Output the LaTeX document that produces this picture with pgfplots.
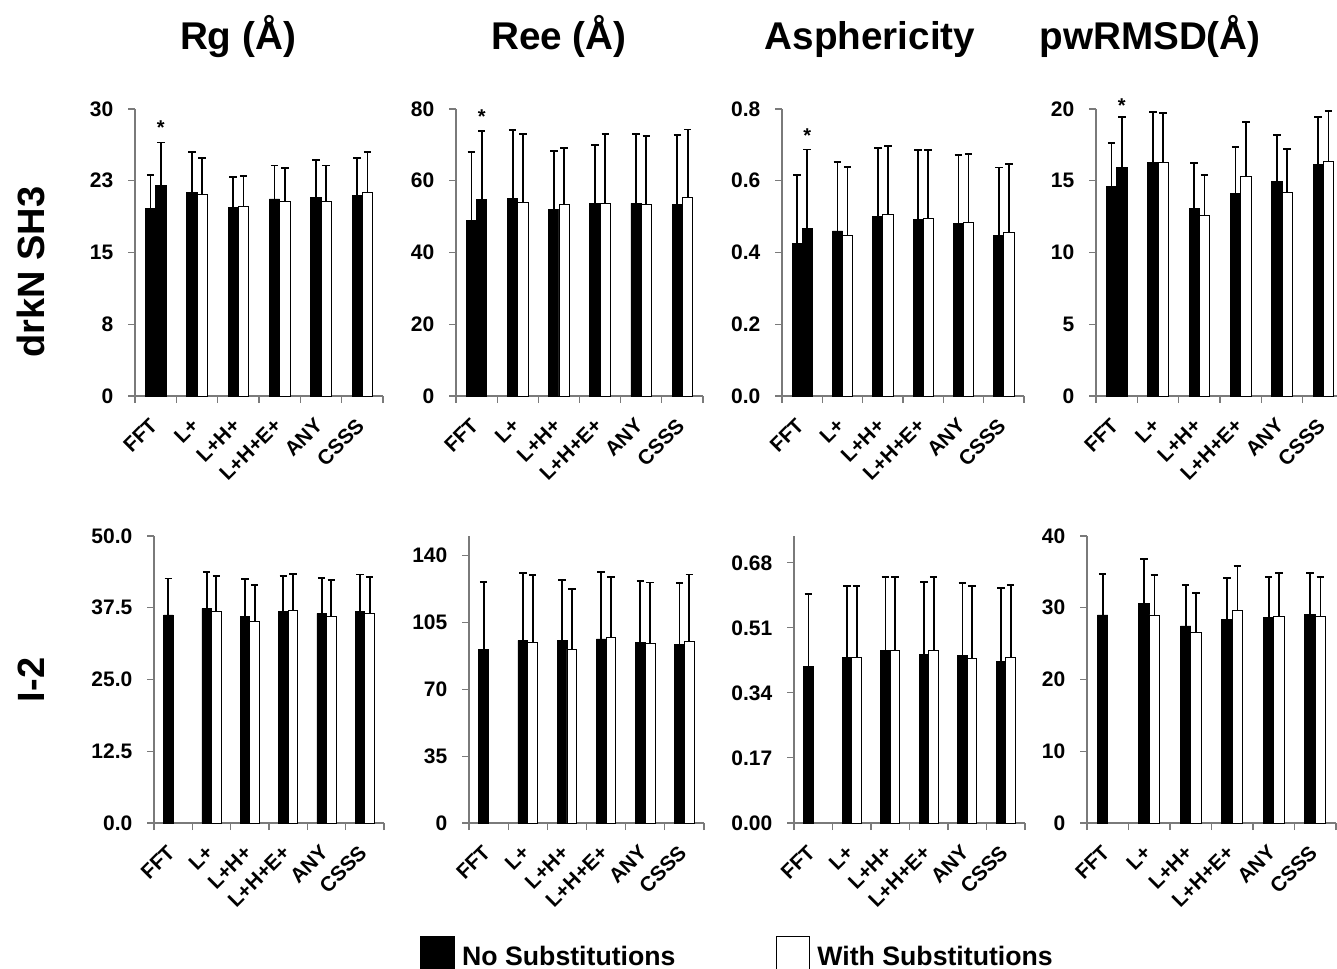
\documentclass[border=0pt]{standalone}
\usepackage{fontspec}
\setmainfont{Liberation Sans}
\usepackage{pgfplots}
\pgfplotsset{compat=1.18}
\definecolor{axisgray}{HTML}{7A7A7A}

\tikzset{sigstar/.style={font=\bfseries\fontsize{15}{15}\selectfont, yshift=-3pt}}

\pgfplotsset{
  panel/.style={
    scale only axis, anchor=south west, ybar, clip=false,
    xmin=-0.5, xmax=5.5, ymin=0,
    height=215.25pt,
    axis lines=left, axis line style={-, draw=axisgray, line width=0.8pt},
    tick align=outside,
    xtick={0,...,5}, xticklabels={FFT,L+,L+H+,L+H+E+,ANY,CSSS},
    major x tick style={draw=none},
    minor xtick={-0.5,0.5,...,5.5},
    minor x tick style={draw=axisgray, line width=0.8pt},
    minor tick length=5.25pt, major tick length=5.25pt,
    ytick style={draw=axisgray, line width=0.8pt},
    x tick label style={rotate=45, anchor=north east, inner sep=1pt,
      xshift=-10pt, yshift=-2.5pt,
      font=\bfseries\fontsize{15.5}{15.5}\selectfont},
    y tick label style={font=\bfseries\fontsize{15.75}{16}\selectfont, xshift=-7.5pt},
  },
  errs/.style={
    error bars/y dir=plus, error bars/y explicit,
    error bars/error bar style={line width=1.4pt, black},
    error bars/error mark options={rotate=90, line width=1.4pt, mark size=2.8pt, black},
  },
  nosub/.style={fill=black, draw=black, line width=0.6pt,
    bar width=0.25, bar shift=-0.125, errs},
  withsub/.style={fill=white, draw=black, line width=0.6pt,
    bar width=0.25, bar shift=0.125, errs},
  withsubfft/.style={fill=black, draw=black, line width=0.6pt,
    bar width=0.25, bar shift=0.125, errs},
}

\begin{document}
\begin{tikzpicture}
\useasboundingbox (0pt,0pt) rectangle (1002.75pt,726pt);

% column titles
\begin{scope}[every node/.style={anchor=base, font=\bfseries\fontsize{29}{30}\selectfont}]
  \node at (178.5pt,688.5pt) {Rg (Å)};
  \node at (419.25pt,688.5pt) {Ree (Å)};
  \node at (652.5pt,688.5pt) {Asphericity};
  \node at (862.5pt,688.5pt) {pwRMSD(Å)};
\end{scope}

% row labels
\node[rotate=90, font=\bfseries\fontsize{28.5}{30}\selectfont] at (23.25pt,522pt) {drkN SH3};
\node[rotate=90, font=\bfseries\fontsize{28.5}{30}\selectfont] at (23.25pt,216pt) {I-2};

% ---------------- drkN SH3 ----------------
\begin{axis}[panel, at={(101.25pt,429pt)}, width=186pt, ymax=30,
  ytick={0,7.5,15,22.5,30}, yticklabels={0,8,15,23,30}]
\addplot[nosub] table[x=x,y=y,y error=e] {
x y e
0 19.6 3.5
1 21.3 4.2
2 19.7 3.2
3 20.6 3.5
4 20.8 3.9
5 21.0 3.9
};
\addplot[withsub] table[x=x,y=y,y error=e] {
x y e
1 21.1 3.8
2 19.8 3.2
3 20.3 3.5
4 20.3 3.8
5 21.3 4.2
};
\addplot[withsubfft] table[x=x,y=y,y error=e] {
x y e
0 22.0 4.5
};
\node[sigstar] at (axis cs:0.125,28.5) {*};
\end{axis}

\begin{axis}[panel, at={(342pt,429pt)}, width=185.25pt, ymax=80,
  ytick={0,20,40,60,80}, yticklabels={0,20,40,60,80}]
\addplot[nosub] table[x=x,y=y,y error=e] {
x y e
0 48.9 19.1
1 55.0 19.1
2 52.1 16.2
3 53.7 16.2
4 53.7 19.3
5 53.4 19.3
};
\addplot[withsub] table[x=x,y=y,y error=e] {
x y e
1 53.9 19.1
2 53.3 15.8
3 53.7 19.3
4 53.3 19.1
5 55.3 19.0
};
\addplot[withsubfft] table[x=x,y=y,y error=e] {
x y e
0 54.9 18.9
};
\node[sigstar] at (axis cs:0.125,78.9) {*};
\end{axis}

\begin{axis}[panel, at={(586.5pt,429pt)}, width=181.5pt, ymax=0.8,
  ytick={0,0.2,0.4,0.6,0.8}, yticklabels={0.0,0.2,0.4,0.6,0.8}]
\addplot[nosub] table[x=x,y=y,y error=e] {
x y e
0 0.425 0.191
1 0.460 0.192
2 0.500 0.191
3 0.493 0.192
4 0.481 0.191
5 0.447 0.190
};
\addplot[withsub] table[x=x,y=y,y error=e] {
x y e
1 0.447 0.191
2 0.506 0.191
3 0.496 0.189
4 0.485 0.189
5 0.456 0.190
};
\addplot[withsubfft] table[x=x,y=y,y error=e] {
x y e
0 0.466 0.221
};
\node[sigstar] at (axis cs:0.125,0.736) {*};
\end{axis}

\begin{axis}[panel, at={(822pt,429pt)}, width=186pt, ymax=20,
  ytick={0,5,10,15,20}, yticklabels={0,5,10,15,20}]
\addplot[nosub] table[x=x,y=y,y error=e] {
x y e
0 14.58 3.07
1 16.30 3.49
2 13.05 3.16
3 14.12 3.21
4 14.93 3.26
5 16.14 3.33
};
\addplot[withsub] table[x=x,y=y,y error=e] {
x y e
1 16.30 3.42
2 12.60 2.82
3 15.33 3.74
4 14.19 3.02
5 16.33 3.55
};
\addplot[withsubfft] table[x=x,y=y,y error=e] {
x y e
0 15.95 3.49
};
\node[sigstar] at (axis cs:0.125,20.5) {*};
\end{axis}

% ---------------- I-2 ----------------
\begin{axis}[panel, at={(115.5pt,108.75pt)}, width=172.5pt, ymax=50,
  ytick={0,12.5,25,37.5,50}, yticklabels={0.0,12.5,25.0,37.5,50.0}]
\addplot[nosub] table[x=x,y=y,y error=e] {
x y e
0 36.25 6.35
1 37.35 6.35
2 36.0 6.5
3 36.8 6.3
4 36.5 6.2
5 36.8 6.5
};
\addplot[withsub] table[x=x,y=y,y error=e] {
x y e
1 36.8 6.3
2 35.1 6.3
3 37.1 6.3
4 36.0 6.3
5 36.5 6.3
};
\end{axis}

\begin{axis}[panel, at={(351.75pt,108.75pt)}, width=176.25pt, ymax=150,
  ytick={0,35,70,105,140}, yticklabels={0,35,70,105,140},
  legend style={at={(-0.2085,-0.392)}, anchor=north west, draw=none, fill=none,
    legend columns=2, inner sep=0pt,
    font=\bfseries\fontsize{20}{20}\selectfont,
    /tikz/every even column/.append style={column sep=73pt}}]
\addplot[nosub, legend image code/.code={\draw[fill=black, draw=black, line width=0.9pt] (0pt,-14pt) rectangle (25pt,15pt);
    \path[draw=none, fill=none] (0pt,0pt) -- (29pt,0pt);}]
  table[x=x,y=y,y error=e] {
x y e
0 90.8 35.2
1 95.5 35.2
2 95.3 31.9
3 96.2 35.1
4 94.4 32.0
5 93.4 32.1
};
\addplot[withsub, legend image code/.code={\draw[fill=white, draw=black, line width=0.9pt] (0pt,-14pt) rectangle (25pt,15pt);
    \path[draw=none, fill=none] (0pt,0pt) -- (29pt,0pt);}]
  table[x=x,y=y,y error=e] {
x y e
1 94.6 35.1
2 90.9 31.5
3 97.0 31.6
4 93.7 32.0
5 95.0 34.9
};
\legend{No Substitutions, With Substitutions}
\end{axis}

\begin{axis}[panel, at={(595.5pt,108.75pt)}, width=173.25pt, ymax=0.75,
  ytick={0,0.17,0.34,0.51,0.68}, yticklabels={0.00,0.17,0.34,0.51,0.68}]
\addplot[nosub] table[x=x,y=y,y error=e] {
x y e
0 0.410 0.188
1 0.432 0.188
2 0.452 0.190
3 0.440 0.190
4 0.437 0.191
5 0.423 0.191
};
\addplot[withsub] table[x=x,y=y,y error=e] {
x y e
1 0.432 0.188
2 0.452 0.190
3 0.452 0.190
4 0.431 0.189
5 0.433 0.189
};
\end{axis}

\begin{axis}[panel, at={(815.25pt,108.75pt)}, width=186.75pt, ymax=40,
  ytick={0,10,20,30,40}, yticklabels={0,10,20,30,40}]
\addplot[nosub] table[x=x,y=y,y error=e] {
x y e
0 29.0 5.76
1 30.58 6.26
2 27.47 5.66
3 28.31 5.84
4 28.63 5.66
5 29.1 5.75
};
\addplot[withsub] table[x=x,y=y,y error=e] {
x y e
1 29.0 5.57
2 26.59 5.48
3 29.61 6.17
4 28.77 6.03
5 28.77 5.57
};
\end{axis}
\end{tikzpicture}
\end{document}
